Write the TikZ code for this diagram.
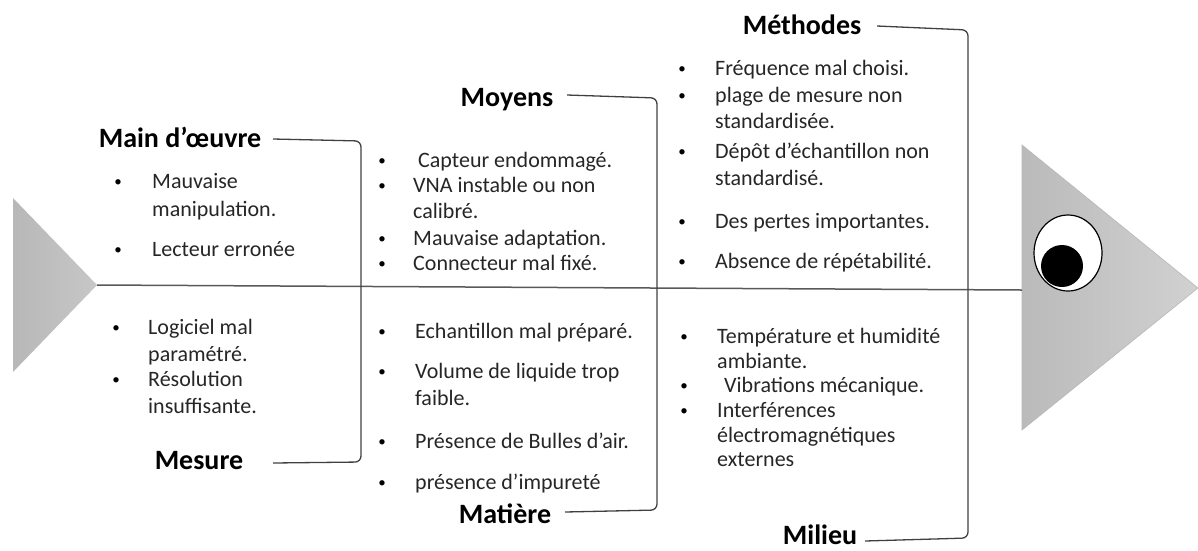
\documentclass[tikz,border=0pt]{standalone}
\usepackage{fontspec}
\setmainfont{Carlito}
\usetikzlibrary{shapes.geometric}
\begin{document}
\begin{tikzpicture}[x=1pt,y=-1pt]
\tikzset{
 hd/.style={font=\fontsize{28}{32}\selectfont\bfseries, text=black, inner sep=0pt, anchor=base},
 txt/.style={font=\fontsize{22}{26}\selectfont, text=black!85, inner sep=0pt, anchor=base west},
 bul/.style={font=\fontsize{15}{18}\selectfont, text=black, inner sep=0pt, anchor=base, yshift=2pt},
 brk/.style={draw=black!75, line width=1.3pt, rounded corners=6pt},
 spine/.style={draw=black!65, line width=1.5pt},
 fin/.style={draw=black!28, line width=0.6pt},
}
\useasboundingbox (0,0) rectangle (1198,550);

% tail
\shade[left color=black!28, right color=black!22] (13,198) -- (97,285) -- (13,372) -- cycle;
\coordinate (tail) at (97,285);
% head
\shade[left color=black!27, right color=black!18] (1022,145) -- (1198,288) -- (1022,430) -- cycle;
\draw[fin] (1022,145) -- (1198,288) -- (1022,430) -- cycle;
\coordinate (head) at (1022,290);
\draw[spine] (tail) -- (head);
% eye
\node[draw=black, line width=1.2pt, fill=white, ellipse, minimum width=68pt, minimum height=76pt, inner sep=0pt] (eye) at (1068,253) {};
\node[fill=black, circle, minimum size=42pt, inner sep=0pt] (pupil) at (1062,266) {};

% headings
\node[hd] (hmo) at (180,147) {Main d’œuvre};
\node[hd] (hme) at (199,469) {Mesure};
\node[hd] (hmy) at (507,106) {Moyens};
\node[hd] (hma) at (505,523) {Matière};
\node[hd] (hmt) at (802,34) {Méthodes};
\node[hd] (hmi) at (820,544) {Milieu};

% brackets
\coordinate (a1) at (273,139); \coordinate (a2) at (361,141); \coordinate (a3) at (361,462); \coordinate (a4) at (273,463);
\draw[brk] (a1) -- (a2) -- (a3) -- (a4);
\coordinate (b1) at (567,95); \coordinate (b2) at (657,98); \coordinate (b3) at (657,510); \coordinate (b4) at (565,512);
\draw[brk] (b1) -- (b2) -- (b3) -- (b4);
\coordinate (c1) at (877,26); \coordinate (c2) at (968,30); \coordinate (c3) at (968,538); \coordinate (c4) at (865,541);
\draw[brk] (c1) -- (c2) -- (c3) -- (c4);

% Main d'oeuvre items
\node[bul] (mob1) at (118,188) {•};
\node[txt] (mot1) at (152,188) {Mauvaise};
\node[txt] (mot1b) at (152,216) {manipulation.};
\node[bul] (mob2) at (118,256) {•};
\node[txt] (mot2) at (152,256) {Lecteur erronée};

% Mesure items
\node[bul] (meb1) at (116,334) {•};
\node[txt] (met1) at (148,334) {Logiciel mal};
\node[txt] (met1b) at (148,361) {paramétré.};
\node[bul] (meb2) at (116,386) {•};
\node[txt] (met2) at (148,386) {Résolution};
\node[txt] (met2b) at (148,413) {insuffisante.};

% Moyens items
\node[bul] (myb1) at (382,167) {•};
\node[txt] (myt1) at (418,167) {Capteur endommagé.};
\node[bul] (myb2) at (382,192) {•};
\node[txt] (myt2) at (413,192) {VNA instable ou non};
\node[txt] (myt2b) at (413,218) {calibré.};
\node[bul] (myb3) at (382,245) {•};
\node[txt] (myt3) at (413,245) {Mauvaise adaptation.};
\node[bul] (myb4) at (382,270) {•};
\node[txt] (myt4) at (413,270) {Connecteur mal fixé.};

% Matiere items
\node[bul] (mab1) at (382,338) {•};
\node[txt] (mat1) at (415,338) {Echantillon mal préparé.};
\node[bul] (mab2) at (382,378) {•};
\node[txt] (mat2) at (415,378) {Volume de liquide trop};
\node[txt] (mat2b) at (415,405) {faible.};
\node[bul] (mab3) at (382,448) {•};
\node[txt] (mat3) at (415,448) {Présence de Bulles d’air.};
\node[bul] (mab4) at (382,489) {•};
\node[txt] (mat4) at (415,489) {présence d’impureté};

% Methodes items
\node[bul] (mtb1) at (682,75) {•};
\node[txt] (mtt1) at (715,75) {Fréquence mal choisi.};
\node[bul] (mtb2) at (682,102) {•};
\node[txt] (mtt2) at (715,102) {plage de mesure non};
\node[txt] (mtt2b) at (715,128) {standardisée.};
\node[bul] (mtb3) at (682,158) {•};
\node[txt] (mtt3) at (715,158) {Dépôt d’échantillon non};
\node[txt] (mtt3b) at (715,185) {standardisé.};
\node[bul] (mtb4) at (682,228) {•};
\node[txt] (mtt4) at (715,228) {Des pertes importantes.};
\node[bul] (mtb5) at (682,268) {•};
\node[txt] (mtt5) at (715,268) {Absence de répétabilité.};

% Milieu items
\node[bul] (mib1) at (684,343) {•};
\node[txt] (mit1) at (717,343) {Température et humidité};
\node[txt] (mit1b) at (717,368) {ambiante.};
\node[bul] (mib2) at (684,392) {•};
\node[txt] (mit2) at (724,392) {Vibrations mécanique.};
\node[bul] (mib3) at (684,417) {•};
\node[txt] (mit3) at (717,417) {Interférences};
\node[txt] (mit3b) at (717,442) {électromagnétiques};
\node[txt] (mit3c) at (717,466) {externes};
\end{tikzpicture}
\end{document}
